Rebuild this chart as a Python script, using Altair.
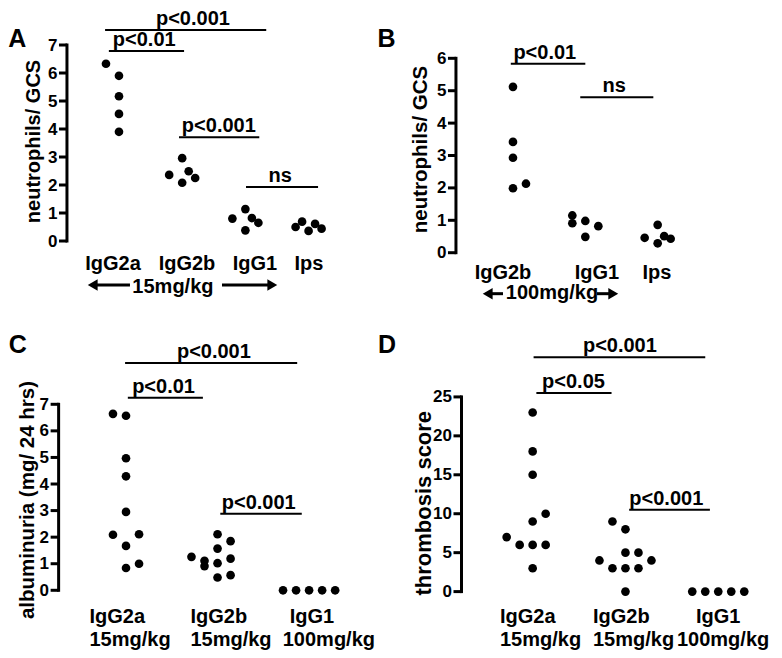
import altair as alt
import pandas as pd

# ---------------- data ----------------
# Panel A : neutrophils / GCS (15 mg/kg)
a_groups = ["IgG2a", "IgG2b", "IgG1", "Ips"]
a_vals = [
    [6.33, 5.90, 5.17, 4.54, 3.90],
    [2.36, 2.96, 2.08, 2.49, 2.25],
    [0.80, 1.14, 0.38, 0.82, 0.65],
    [0.50, 0.69, 0.36, 0.61, 0.44],
]
a_jitter = [
    [-2, 0, 0, 0, 0],
    [-2, 0, 0, 1, 2],
    [-2, 0, 0, 1, 2],
    [-2, -1, 0, 1, 2],
]
a_ticks = [0, 1, 2, 3, 4, 5, 6, 7]

# Panel B : neutrophils / GCS (100 mg/kg)
b_groups = ["IgG2b", "IgG1", "Ips"]
b_vals = [
    [5.12, 3.42, 2.93, 1.99, 2.13],
    [1.15, 0.91, 0.98, 0.49, 0.82],
    [0.46, 0.86, 0.29, 0.51, 0.43],
]
b_jitter = [
    [0, 0, 0, 0, 2],
    [-2, -2, 0, 0, 2],
    [-2, 0, 0, 1, 2],
]
b_ticks = [0, 1, 2, 3, 4, 5, 6]

# Panel C : albuminuria
c_line1 = ["IgG2a", "IgG2b", "IgG1"]
c_line2 = ["15mg/kg", "15mg/kg", "100mg/kg"]
c_vals = [
    [6.64, 6.57, 4.97, 4.29, 2.95, 2.09, 2.11, 1.67, 0.84, 1.00],
    [1.26, 1.11, 0.91, 2.11, 1.57, 1.02, 0.48, 1.85, 1.19, 0.57],
    [0.0, 0.0, 0.0, 0.0, 0.0],
]
c_jitter = [
    [-2, 0, 0, 0, 0, -2, 2, 0, 0, 2],
    [-4, -2, -2, 0, 0, 0, 0, 2, 2, 2],
    [-4, -2, 0, 2, 4],
]
c_ticks = [0, 1, 2, 3, 4, 5, 6, 7]

# Panel D : thrombosis score
d_line1 = ["IgG2a", "IgG2b", "IgG1"]
d_line2 = ["15mg/kg", "15mg/kg", "100mg/kg"]
d_vals = [
    [23, 18, 15, 10, 9, 7, 6, 6, 6, 3],
    [9, 8, 5, 5, 4, 4, 3, 3, 3, 0],
    [0, 0, 0, 0, 0],
]
d_jitter = [
    [0, 0, 0, 2, 0, -4, -2, 0, 2, 0],
    [-2, 0, 0, 2, -4, 4, -2, 0, 2, 0],
    [-4, -2, 0, 2, 4],
]
d_ticks = [0, 5, 10, 15, 20, 25]

# significance brackets: (start, end, text centre, level, label)
a_brackets = [(0.78, 3.33, 2.17, 7.54, "p<0.001"), (0.84, 2.03, 1.40, 6.79, "p<0.01"),
              (1.95, 3.22, 2.58, 3.71, "p<0.001"), (3.01, 4.15, 3.55, 1.93, "ns")]
b_brackets = [(0.97, 2.00, 1.44, 5.83, "p<0.01"), (1.93, 2.94, 2.40, 4.80, "ns")]
c_brackets = [(0.99, 2.87, 1.96, 8.55, "p<0.001"), (1.02, 1.84, 1.41, 7.25, "p<0.01"),
              (2.03, 2.92, 2.45, 2.88, "p<0.001")]
d_brackets = [(1.01, 2.86, 1.94, 30.1, "p<0.001"), (1.04, 1.85, 1.44, 25.5, "p<0.05"),
              (2.04, 2.91, 2.44, 10.5, "p<0.001")]

FONT = "Liberation Sans"
BLACK = "#000000"
TICK_PX = 8


def panel(letter, groups_vals, jitter, half_step, xdom, ydom, ticks, spine_x,
          ytitle, title_x, title_y, title_size, axis_offset, brackets, width, height,
          labels, letter_xy, arrow=None):
    xs = alt.Scale(domain=xdom, nice=False, zero=False)
    ys = alt.Scale(domain=ydom, nice=False, zero=False)
    yaxis = alt.Axis(
        values=ticks, domain=False, grid=False, ticks=False,
        labelFontSize=17, labelFontWeight="bold", labelColor=BLACK,
        labelFont=FONT, labelPadding=TICK_PX + 2, labelOverlap=False, labelFlush=False,
        offset=axis_offset, title=ytitle, titleFont=FONT, titleFontSize=title_size,
        titleFontWeight="bold", titleColor=BLACK, titleAngle=270,
        titleAlign="center", titleBaseline="middle", titleX=title_x, titleY=title_y)
    sp_px = width / (xdom[1] - xdom[0])

    def X(f):
        return alt.X(f, scale=xs, axis=None)

    def Y(f):
        return alt.Y(f, scale=ys, axis=yaxis)

    rows = []
    for gi, (vals, jit) in enumerate(zip(groups_vals, jitter)):
        for v, h in zip(vals, jit):
            rows.append({"x": gi + 1 + h * half_step, "y": v})
    pts = alt.Chart(pd.DataFrame(rows)).mark_circle(size=75, color=BLACK, opacity=1).encode(
        x=X("x:Q"), y=Y("y:Q"),
    )

    spine = alt.Chart(pd.DataFrame([{"x": spine_x, "y": ticks[0], "y2": ticks[-1]}])).mark_rule(
        strokeWidth=3, color=BLACK, strokeCap="square").encode(
        x=X("x:Q"), y=Y("y:Q"), y2="y2:Q",
    )
    tick_df = pd.DataFrame([{"x": spine_x - TICK_PX / sp_px, "x2": spine_x, "y": t} for t in ticks])
    tick_marks = alt.Chart(tick_df).mark_rule(strokeWidth=3, color=BLACK).encode(
        x=X("x:Q"), x2="x2:Q", y=Y("y:Q"),
    )

    bdf = pd.DataFrame([{"x": b[0], "x2": b[1], "xt": b[2], "y": b[3], "t": b[4]} for b in brackets])
    brules = alt.Chart(bdf).mark_rule(strokeWidth=2, color=BLACK).encode(
        x=X("x:Q"), x2="x2:Q", y=Y("y:Q"),
    )
    btext = alt.Chart(bdf).mark_text(fontSize=20, fontWeight="bold", font=FONT, color=BLACK,
                                     baseline="alphabetic", dy=-5).encode(
        x=X("xt:Q"), y=Y("y:Q"), text="t:N",
    )

    ldf = pd.DataFrame(labels["rows"])
    ltext = alt.Chart(ldf).mark_text(fontSize=20, fontWeight="bold", font=FONT, color=BLACK,
                                     baseline="alphabetic", align=labels["align"]).encode(
        x=X("x:Q"), y=Y("y:Q"), text="t:N",
    )

    let = alt.Chart(pd.DataFrame([{"x": letter_xy[0], "y": letter_xy[1], "t": letter}])).mark_text(
        fontSize=25, fontWeight="bold", font=FONT, color=BLACK, baseline="middle", align="center").encode(
        x=X("x:Q"), y=Y("y:Q"), text="t:N",
    )

    layers = [pts, spine, tick_marks, brules, btext, ltext, let]

    if arrow is not None:
        head = 130
        r = (head ** 0.5) / 2 / sp_px
        ay = arrow["y"]
        shafts = pd.DataFrame([
            {"x": arrow["left"][0] + r, "x2": arrow["left"][1], "y": ay},
            {"x": arrow["right"][0], "x2": arrow["right"][1] - r, "y": ay},
        ])
        heads_l = pd.DataFrame([{"x": arrow["left"][0] + r, "y": ay}])
        heads_r = pd.DataFrame([{"x": arrow["right"][1] - r, "y": ay}])
        layers.append(alt.Chart(shafts).mark_rule(strokeWidth=3, color=BLACK).encode(
            x=X("x:Q"), x2="x2:Q", y=Y("y:Q")))
        layers.append(alt.Chart(heads_l).mark_point(shape="triangle-left", filled=True, size=head,
                                                    color=BLACK, opacity=1).encode(
            x=X("x:Q"), y=Y("y:Q")))
        layers.append(alt.Chart(heads_r).mark_point(shape="triangle-right", filled=True, size=head,
                                                    color=BLACK, opacity=1).encode(
            x=X("x:Q"), y=Y("y:Q")))
        layers.append(alt.Chart(pd.DataFrame([{"x": arrow["tx"], "y": arrow["ty"], "t": arrow["text"]}]))
                      .mark_text(fontSize=20, fontWeight="bold", font=FONT, color=BLACK,
                                 baseline="alphabetic", align="center").encode(
            x=X("x:Q"), y=Y("y:Q"), text="t:N"))

    return alt.layer(*layers).properties(width=width, height=height)


# ---------------- layout ----------------
W1, W2 = 367, 398
H1, H2 = 312, 329

# Panel A
pA = panel(
    "A", a_vals, a_jitter, 6.5 / 63.2, [-0.756, 5.051], [-2.857, 8.286], a_ticks, 0.177,
    "neutrophils/ GCS", -33.5, 132, 20, -59, a_brackets, W1, H1,
    {"align": "center", "rows": [{"x": x, "y": -1.05, "t": t}
                                 for x, t in zip([0.905, 2.076, 3.152, 4.006], a_groups)]},
    (-0.610, 7.20),
    arrow={"left": (0.494, 1.174), "right": (2.630, 3.516), "y": -1.571,
           "tx": 1.854, "ty": -1.846, "text": "15mg/kg"},
)

# Panel B
pB = panel(
    "B", b_vals, b_jitter, 6.5 / 72.35, [-0.907, 4.594], [-2.108, 7.522], b_ticks, 0.212,
    "neutrophils/ GCS", -36, 140, 20.5, -81, b_brackets, W2, H1,
    {"align": "center", "rows": [{"x": x, "y": -0.80, "t": t}
                                 for x, t in zip([0.862, 2.161, 2.990], b_groups)]},
    (-0.748, 6.60),
    arrow={"left": (0.572, 0.862), "right": (2.161, 2.465), "y": -1.265,
           "tx": 1.539, "ty": -1.429, "text": "100mg/kg"},
)

# Panel C
c_rows = ([{"x": x, "y": -1.23, "t": t} for x, t in zip([0.601, 1.704, 2.789], c_line1)] +
          [{"x": x, "y": -2.10, "t": t} for x, t in zip([0.601, 1.704, 2.712], c_line2)])
pC = panel(
    "C", c_vals, c_jitter, 6.5 / 91.3, [-0.289, 3.720], [-2.247, 10.135], c_ticks, 0.264,
    "albuminuria (mg/ 24 hrs)", -31, 178.5, 20.5, -50.5, c_brackets, W1, H2,
    {"align": "left", "rows": c_rows},
    (-0.183, 9.23),
)

# Panel D
d_rows = ([{"x": x, "y": -4.02, "t": t} for x, t in zip([0.648, 1.650, 2.760], d_line1)] +
          [{"x": x, "y": -6.97, "t": t} for x, t in zip([0.648, 1.650, 2.555], d_line2)])
pD = panel(
    "D", d_vals, d_jitter, 6.5 / 92.8, [-0.699, 3.590], [-7.50, 34.75], d_ticks, 0.233,
    "thrombosis score", -38.5, 181.7, 22, -86.5, d_brackets, W2, H2,
    {"align": "left", "rows": d_rows},
    (-0.570, 31.67),
)

top = alt.hconcat(pA, pB, spacing=0, bounds="flush")
bottom = alt.hconcat(pC, pD, spacing=0, bounds="flush")
chart = (
    alt.vconcat(top, bottom, spacing=0)
    .properties(padding=0, background="white")
    .configure(font=FONT)
    .configure_view(stroke=None)
)

chart.save("out.html", embed_options={"renderer": "svg", "actions": False})
